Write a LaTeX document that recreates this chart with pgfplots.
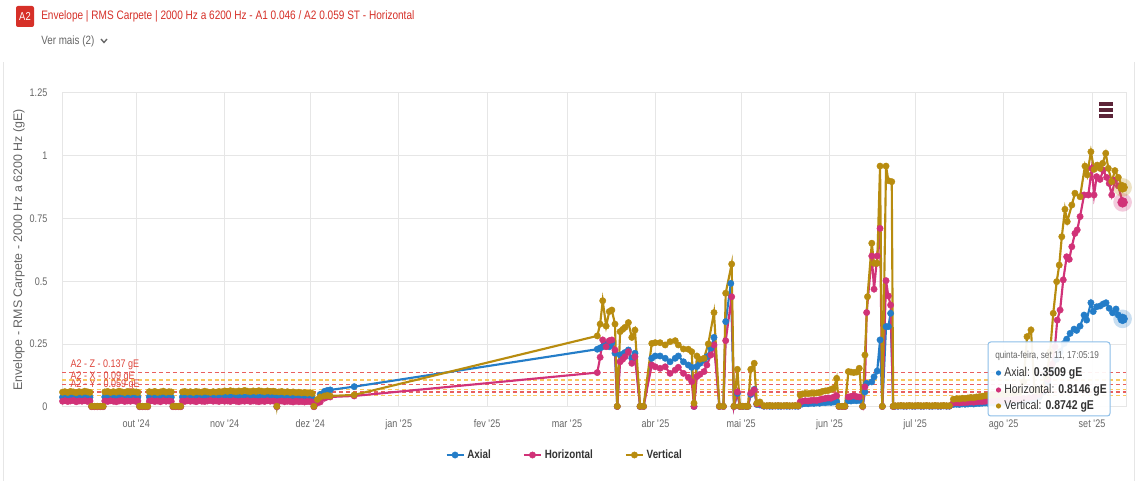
\documentclass[border=0pt]{standalone}
\usepackage{fontspec}
\setmainfont[FakeStretch=0.82]{Liberation Sans}
\newfontfamily\ylabfont{Liberation Sans}
\usepackage{pgfplots}
\pgfplotsset{compat=1.18}

\definecolor{axial}{RGB}{36,125,200}
\definecolor{horiz}{RGB}{209,50,120}
\definecolor{vert}{RGB}{184,140,15}
\definecolor{thrRed}{RGB}{232,95,95}
\definecolor{thrYel}{RGB}{250,200,95}
\definecolor{thrTxt}{RGB}{222,70,60}
\definecolor{gridc}{RGB}{230,230,230}
\definecolor{txtgray}{RGB}{102,102,102}
\definecolor{titlered}{RGB}{214,48,40}
\definecolor{darktxt}{RGB}{51,51,51}
\definecolor{menuc}{RGB}{92,36,56}
\definecolor{tipborder}{RGB}{140,190,232}

\begin{document}
\begin{tikzpicture}[x=0.75pt,y=0.75pt]
\fill[white] (0,0) rectangle (1137,481);
\useasboundingbox (0,0) rectangle (1137,481);
% card sides
\draw[gridc,line width=0.75pt] (3,0) -- (3,419);
\draw[gridc,line width=0.75pt] (1134,0) -- (1134,419);
% header
\fill[titlered,rounded corners=1.5pt] (16,475) rectangle (34,454);
\node[white,inner sep=0,font=\fontsize{8.6pt}{9pt}\selectfont] at (25,464.5) {A2};
\node[anchor=west,inner sep=0,text=titlered,font=\fontsize{9.2pt}{10pt}\selectfont] at (41,464.5)
  {Envelope | RMS Carpete | 2000 Hz a 6200 Hz - A1 0.046 / A2 0.059 ST - Horizontal};
\node[anchor=west,inner sep=0,text=txtgray,font=\fontsize{9pt}{10pt}\selectfont] at (41,440)
  {Ver mais (2)};
\draw[txtgray,line width=1pt] (101,442) -- (104,438.5) -- (107,442);

\begin{axis}[
  at={(46.5pt,55.5pt)}, anchor=south west,
  scale only axis, width=798pt, height=235.5pt,
  xmin=-26, xmax=346.9, ymin=0, ymax=1.25,
  clip=false,
  xtick={0,31,61,92,123,151,182,212,243,273,304,335},
  xticklabels={out \textquotesingle24,nov \textquotesingle24,dez \textquotesingle24,jan \textquotesingle25,fev \textquotesingle25,mar \textquotesingle25,abr \textquotesingle25,mai \textquotesingle25,jun \textquotesingle25,jul \textquotesingle25,ago \textquotesingle25,set \textquotesingle25},
  ytick={0,0.25,0.5,0.75,1,1.25},
  yticklabels={0,0.25,0.5,0.75,1,1.25},
  major tick length=0pt,
  grid=major, grid style={gridc,line width=0.75pt},
  axis line style={gridc,line width=0.75pt},
  tick label style={text=txtgray,font=\fontsize{8.25pt}{9pt}\selectfont},
  yticklabel style={xshift=-7.5pt},
  xticklabel style={yshift=-6pt},
  ylabel={Envelope - RMS Carpete - 2000 Hz a 6200 Hz (gE)},
  every axis y label/.style={at={(axis description cs:-0.0404,0.5)},rotate=90,anchor=center,
     text=txtgray,font=\ylabfont\fontsize{9.3pt}{10pt}\selectfont},
  legend columns=3,
  legend style={at={(0.4727,-0.1529)},anchor=center,draw=none,fill=none,
     font=\bfseries\fontsize{9pt}{10pt}\selectfont,text=darktxt,
     /tikz/every even column/.append style={column sep=22pt}},
  legend image code/.code={\draw[#1,mark repeat=2,mark phase=2] plot coordinates {(0pt,0pt) (6.4pt,0pt) (12.8pt,0pt)};},
]
% thresholds
\addplot[forget plot,thrRed,line width=1.1pt,dash pattern=on 3pt off 2.2pt] coordinates {(-26,0.137) (346.9,0.137)};
\addplot[forget plot,thrYel,line width=1.1pt,dash pattern=on 3pt off 2.2pt] coordinates {(-26,0.107) (346.9,0.107)};
\addplot[forget plot,thrRed,line width=1.1pt,dash pattern=on 3pt off 2.2pt] coordinates {(-26,0.090) (346.9,0.090)};
\addplot[forget plot,thrYel,line width=1.1pt,dash pattern=on 3pt off 2.2pt] coordinates {(-26,0.070) (346.9,0.070)};
\addplot[forget plot,thrRed,line width=1.1pt,dash pattern=on 3pt off 2.2pt] coordinates {(-26,0.059) (346.9,0.059)};
\addplot[forget plot,thrYel,line width=1.1pt,dash pattern=on 3pt off 2.2pt] coordinates {(-26,0.046) (346.9,0.046)};

% Axial
\addplot[axial,line width=1.6pt,mark=*,mark size=2.4pt,mark options={solid,fill=axial,draw=axial,line width=0.3pt}] coordinates {
(-25.8,0.039) (-25,0.041) (-24,0.038) (-23,0.040) (-22,0.042) (-21,0.039) (-20,0.041) (-19,0.038) (-18,0.040) (-17,0.042) (-16.2,0.039)
(-15.6,0.002) (-14.6,0.002) (-13.6,0.002) (-12.6,0.002) (-11.6,0.002)
(-11,0.040) (-10,0.038) (-9,0.041) (-8,0.039) (-7,0.042) (-6,0.040) (-5,0.038) (-4,0.041) (-3,0.039) (-2,0.040) (-1,0.042) (0,0.039) (0.6,0.040)
(1.2,0.002) (2.2,0.002) (3.2,0.002) (4,0.002)
(4.6,0.040) (5.5,0.038) (6.5,0.041) (7.5,0.039) (8.5,0.040) (9.5,0.042) (10.5,0.039) (11.5,0.041) (12.3,0.039)
(12.9,0.002) (13.9,0.002) (14.9,0.002) (15.6,0.002)
(16.2,0.040) (17,0.041) (18,0.039) (19,0.040) (20,0.042) (21,0.039) (22,0.041) (23,0.038) (24,0.040) (25,0.041) (26,0.039) (27,0.042) (28,0.040) (29,0.038) (30,0.041) (31,0.040) (32,0.042) (33,0.039) (34,0.041) (35,0.040) (36,0.038) (37,0.041) (38,0.039) (39,0.040) (40,0.042) (41,0.039) (42,0.040) (43,0.038) (44,0.041) (45,0.039) (46,0.040) (47,0.042) (48,0.039) (48.7,0.040)
(49.3,0.002)
(50,0.039) (51,0.041) (52,0.038) (53,0.040) (54,0.039) (55,0.041) (56,0.037) (57,0.039) (58,0.038) (59,0.040) (60,0.037) (61,0.039) (61.7,0.036)
(62.3,0.002)
(63.5,0.022) (64.5,0.050) (66,0.062) (67,0.066) (68,0.068) (76.4,0.081)
(161.6,0.230) (162.6,0.235) (163.5,0.240) (164.7,0.251) (165.8,0.240) (166.7,0.256) (167.8,0.214) (168.6,0.002) (169.6,0.207) (170.5,0.210) (171.3,0.217) (172.5,0.227) (173.7,0.194) (174.8,0.214) (176.6,0.002) (177.8,0.002) (180.7,0.194) (181.9,0.203) (183.6,0.203) (185.4,0.194) (187.1,0.180) (188.9,0.194) (190.0,0.203) (191.8,0.180) (193.5,0.167) (194.7,0.158) (195.5,0.002) (196.5,0.161) (197.6,0.174) (199.0,0.186) (200.0,0.200) (201.4,0.234) (202.5,0.277) (204.4,0.002) (205.8,0.002) (206.6,0.340) (208.4,0.492) (209.5,0.002)
(210.7,0.054) (211.6,0.002) (212.6,0.002) (213.7,0.002) (214.4,0.002) (215.4,0.050) (216.6,0.070) (217.5,0.010) (218.6,0.008)
(220,0.003) (221,0.004) (222,0.003) (223,0.003) (224,0.004) (225,0.003) (226,0.003) (227,0.004) (228,0.003) (229,0.003) (230,0.004) (231,0.003) (232,0.003)
(232.7,0.010) (233.5,0.012) (234.5,0.014) (235.5,0.013) (236.5,0.015) (237.5,0.014) (238.5,0.016) (239.5,0.015) (240.5,0.018) (241.5,0.017) (242.5,0.019) (243.5,0.018) (244.5,0.020) (245.5,0.021) (246.3,0.002) (247.4,0.002) (248.4,0.002) (249.6,0.025) (250.5,0.024) (251.5,0.026) (252.5,0.025) (253.4,0.027) (254.6,0.002) (255.4,0.060) (256.0,0.094) (257.8,0.100) (258.6,0.120) (259.7,0.143) (260.7,0.267) (261.5,0.002) (262.8,0.320) (263.6,0.320) (264.4,0.373) (265.3,0.002)
(266,0.003) (267,0.003) (268,0.004) (269,0.003) (270,0.003) (271,0.004) (272,0.003) (273,0.003) (274,0.004) (275,0.003) (276,0.003) (277,0.004) (278,0.003) (279,0.003) (280,0.004) (281,0.003) (282,0.003) (283,0.004) (284,0.003) (285,0.003)
(286.4,0.010) (287.5,0.011) (288.5,0.010) (289.5,0.012) (290.5,0.011) (291.5,0.012) (292.5,0.013) (293.5,0.012) (294.5,0.014) (295.5,0.014) (296.5,0.015) (297.5,0.016) (298.5,0.015) (299.5,0.017) (300.5,0.016) (301.5,0.018) (302.5,0.017) (303.5,0.019) (304.5,0.018) (305.5,0.020) (306.5,0.019) (307.5,0.021) (308.5,0.020) (309.5,0.022)
(311,0.024) (313,0.028) (314.8,0.030) (316.5,0.040) (318,0.060) (319.5,0.100) (321,0.150) (322.5,0.190) (323.8,0.220) (325.2,0.253) (326.1,0.270) (327.3,0.293) (328.7,0.310) (329.6,0.305) (330.8,0.322) (332.2,0.366) (333.1,0.346) (334.6,0.415) (335.4,0.380) (336.6,0.399) (337.8,0.402) (338.9,0.410) (339.9,0.415) (341.0,0.393) (342.2,0.375) (343.4,0.390) (344.2,0.366) (345.7,0.3509)
};
\addlegendentry{Axial}

% Horizontal
\addplot[horiz,line width=1.6pt,mark=*,mark size=2.4pt,mark options={solid,fill=horiz,draw=horiz,line width=0.3pt}] coordinates {
(-25.8,0.023) (-25,0.025) (-24,0.022) (-23,0.024) (-22,0.026) (-21,0.021) (-20,0.024) (-19,0.023) (-18,0.025) (-17,0.022) (-16.2,0.024)
(-15.6,0.001) (-14.6,0.001) (-13.6,0.001) (-12.6,0.001) (-11.6,0.001)
(-11,0.024) (-10,0.022) (-9,0.025) (-8,0.023) (-7,0.021) (-6,0.024) (-5,0.026) (-4,0.022) (-3,0.024) (-2,0.023) (-1,0.025) (0,0.022) (0.6,0.024)
(1.2,0.001) (2.2,0.001) (3.2,0.001) (4,0.001)
(4.6,0.023) (5.5,0.025) (6.5,0.022) (7.5,0.024) (8.5,0.021) (9.5,0.025) (10.5,0.023) (11.5,0.024) (12.3,0.022)
(12.9,0.001) (13.9,0.001) (14.9,0.001) (15.6,0.001)
(16.2,0.024) (17,0.022) (18,0.025) (19,0.023) (20,0.024) (21,0.021) (22,0.025) (23,0.023) (24,0.022) (25,0.024) (26,0.026) (27,0.023) (28,0.024) (29,0.022) (30,0.025) (31,0.023) (32,0.024) (33,0.022) (34,0.025) (35,0.023) (36,0.021) (37,0.024) (38,0.023) (39,0.025) (40,0.022) (41,0.024) (42,0.023) (43,0.021) (44,0.024) (45,0.022) (46,0.025) (47,0.023) (48,0.024) (48.7,0.022)
(49.3,0.001)
(50,0.022) (51,0.024) (52,0.021) (53,0.023) (54,0.022) (55,0.020) (56,0.023) (57,0.021) (58,0.022) (59,0.020) (60,0.022) (61,0.021) (61.7,0.020)
(62.3,0.001)
(63.5,0.016) (64.5,0.020) (66,0.035) (67,0.040) (68,0.040) (76.4,0.044)
(161.6,0.137) (162.6,0.198) (163.5,0.267) (164.7,0.240) (165.8,0.264) (166.7,0.267) (167.8,0.227) (168.6,0.002) (169.6,0.180) (170.5,0.190) (171.3,0.200) (172.5,0.220) (173.7,0.174) (174.8,0.200) (176.6,0.002) (177.8,0.002) (180.7,0.167) (181.9,0.160) (183.6,0.154) (185.4,0.160) (187.1,0.134) (188.9,0.147) (190.0,0.158) (191.8,0.134) (193.5,0.118) (194.7,0.101) (195.5,0.002) (196.5,0.121) (197.6,0.130) (199.0,0.141) (200.0,0.167) (201.4,0.207) (202.5,0.247) (204.4,0.002) (205.8,0.002) (206.6,0.264) (208.7,0.439) (209.5,0.002)
(210.7,0.060) (211.6,0.002) (212.6,0.003) (213.7,0.003) (214.4,0.003) (215.4,0.055) (216.6,0.068) (217.5,0.012) (218.6,0.012)
(220,0.004) (221,0.004) (222,0.005) (223,0.004) (224,0.004) (225,0.005) (226,0.004) (227,0.004) (228,0.005) (229,0.004) (230,0.004) (231,0.005) (232,0.004)
(232.7,0.020) (233.5,0.023) (234.5,0.025) (235.5,0.024) (236.5,0.026) (237.5,0.027) (238.5,0.026) (239.5,0.029) (240.5,0.032) (241.5,0.034) (242.5,0.036) (243.5,0.035) (244.5,0.040) (245.5,0.045) (246.3,0.002) (247.4,0.002) (248.4,0.002) (249.6,0.040) (250.5,0.042) (251.5,0.045) (252.5,0.041) (253.4,0.040) (254.6,0.002) (255.4,0.080) (256.0,0.376) (257.8,0.601) (258.6,0.469) (259.7,0.601) (260.7,0.711) (261.5,0.002) (262.8,0.503) (263.6,0.442) (264.4,0.406) (265.3,0.002)
(266,0.004) (267,0.004) (268,0.005) (269,0.004) (270,0.004) (271,0.005) (272,0.004) (273,0.004) (274,0.005) (275,0.004) (276,0.004) (277,0.005) (278,0.004) (279,0.004) (280,0.005) (281,0.004) (282,0.004) (283,0.005) (284,0.004) (285,0.004)
(286.4,0.016) (287.5,0.017) (288.5,0.016) (289.5,0.018) (290.5,0.018) (291.5,0.019) (292.5,0.020) (293.5,0.019) (294.5,0.021) (295.5,0.022) (296.5,0.022) (297.5,0.023) (298.5,0.024) (299.5,0.025) (300.5,0.024) (301.5,0.026) (302.5,0.027) (303.5,0.026) (304.5,0.028) (305.5,0.029) (306.5,0.028) (307.5,0.030) (308.5,0.031) (309.5,0.032)
(311,0.034) (313,0.036) (314.8,0.040) (316.5,0.050) (318,0.070) (319.5,0.110) (321,0.170) (322.0,0.240) (322.8,0.346) (323.8,0.386) (324.9,0.506) (326.1,0.598) (327.0,0.588) (327.9,0.638) (329.0,0.691) (329.8,0.705) (330.8,0.758) (332.2,0.844) (333.7,0.844) (334.9,0.950) (335.7,0.844) (336.6,0.917) (337.8,0.906) (338.9,0.943) (340.1,0.914) (341.0,0.890) (341.9,0.844) (343.0,0.903) (344.2,0.880) (345.7,0.8146)
};
\addlegendentry{Horizontal}

% Vertical
\addplot[vert,line width=1.6pt,mark=*,mark size=2.4pt,mark options={solid,fill=vert,draw=vert,line width=0.3pt}] coordinates {
(-25.8,0.059) (-25,0.061) (-24,0.058) (-23,0.062) (-22,0.060) (-21,0.057) (-20,0.061) (-19,0.059) (-18,0.063) (-17,0.060) (-16.2,0.058)
(-15.6,0.003) (-14.6,0.003) (-13.6,0.003) (-12.6,0.003) (-11.6,0.003)
(-11,0.060) (-10,0.062) (-9,0.058) (-8,0.061) (-7,0.059) (-6,0.063) (-5,0.060) (-4,0.058) (-3,0.062) (-2,0.059) (-1,0.061) (0,0.060) (0.6,0.058)
(1.2,0.003) (2.2,0.003) (3.2,0.003) (4,0.003)
(4.6,0.061) (5.5,0.059) (6.5,0.062) (7.5,0.058) (8.5,0.060) (9.5,0.063) (10.5,0.059) (11.5,0.061) (12.3,0.060)
(12.9,0.003) (13.9,0.003) (14.9,0.003) (15.6,0.003)
(16.2,0.060) (17,0.062) (18,0.059) (19,0.061) (20,0.058) (21,0.062) (22,0.060) (23,0.059) (24,0.063) (25,0.060) (26,0.058) (27,0.061) (28,0.059) (29,0.062) (30,0.060) (31,0.064) (32,0.062) (33,0.065) (34,0.063) (35,0.061) (36,0.064) (37,0.062) (38,0.066) (39,0.063) (40,0.061) (41,0.064) (42,0.062) (43,0.065) (44,0.063) (45,0.061) (46,0.064) (47,0.062) (48,0.063) (48.7,0.061)
(49.3,0.003)
(50,0.060) (51,0.062) (52,0.059) (53,0.061) (54,0.058) (55,0.060) (56,0.057) (57,0.059) (58,0.056) (59,0.058) (60,0.055) (61,0.057) (61.7,0.054)
(62.3,0.003)
(63.5,0.030) (64.5,0.040) (66,0.044) (67,0.046) (68,0.044) (76.4,0.048)
(161.6,0.283) (162.6,0.330) (163.5,0.423) (164.7,0.322) (165.8,0.380) (166.7,0.386) (167.8,0.330) (168.6,0.003) (169.6,0.300) (170.5,0.309) (171.3,0.317) (172.5,0.336) (173.7,0.277) (174.8,0.306) (176.6,0.003) (177.8,0.003) (180.7,0.253) (181.9,0.256) (183.6,0.256) (185.4,0.247) (187.1,0.260) (188.9,0.264) (190.0,0.247) (191.8,0.231) (193.5,0.230) (194.7,0.220) (195.5,0.015) (196.5,0.203) (197.6,0.190) (199.0,0.194) (200.5,0.251) (202.5,0.376) (204.4,0.003) (205.8,0.003) (206.6,0.453) (208.7,0.569) (209.5,0.003)
(210.7,0.150) (211.6,0.003) (212.6,0.003) (213.7,0.003) (214.4,0.003) (215.4,0.150) (216.6,0.174) (217.5,0.015) (218.6,0.020)
(220,0.005) (221,0.005) (222,0.006) (223,0.005) (224,0.005) (225,0.006) (226,0.005) (227,0.005) (228,0.006) (229,0.005) (230,0.005) (231,0.006) (232,0.005)
(232.7,0.048) (233.5,0.052) (234.5,0.054) (235.5,0.053) (236.5,0.055) (237.5,0.054) (238.5,0.056) (239.5,0.058) (240.5,0.062) (241.5,0.064) (242.5,0.066) (243.5,0.070) (244.5,0.075) (245.5,0.114) (246.3,0.003) (247.4,0.003) (248.4,0.003) (249.6,0.141) (250.5,0.139) (251.5,0.137) (252.5,0.139) (253.4,0.154) (254.6,0.003) (255.4,0.207) (256.3,0.439) (257.8,0.652) (258.6,0.572) (259.7,0.572) (260.7,0.959) (261.5,0.003) (262.8,0.959) (263.6,0.901) (264.8,0.897) (265.3,0.003)
(266,0.005) (267,0.005) (268,0.006) (269,0.005) (270,0.005) (271,0.006) (272,0.005) (273,0.005) (274,0.006) (275,0.005) (276,0.005) (277,0.006) (278,0.005) (279,0.005) (280,0.006) (281,0.005) (282,0.005) (283,0.006) (284,0.005) (285,0.005)
(286.4,0.031) (287.5,0.033) (288.5,0.032) (289.5,0.035) (290.5,0.034) (291.5,0.036) (292.5,0.038) (293.5,0.037) (294.5,0.040) (295.5,0.041) (296.5,0.043) (297.5,0.045) (298.5,0.046) (299.5,0.048) (300.5,0.047) (301.5,0.050) (302.5,0.051) (303.5,0.052) (304.5,0.051) (305.5,0.054) (306.5,0.055) (307.5,0.056) (308.5,0.058) (309.5,0.060)
(311,0.100) (312.2,0.280) (313.6,0.307) (314.8,0.070) (316,0.062) (317.5,0.075) (319,0.120) (320.3,0.220) (321.4,0.373) (322.6,0.499) (323.5,0.565) (324.4,0.678) (325.5,0.787) (326.3,0.738) (327.9,0.804) (329.0,0.851) (330.8,0.837) (332.5,0.959) (333.3,0.924) (334.6,1.016) (335.7,0.946) (336.8,0.963) (337.8,0.950) (338.7,0.970) (339.8,1.010) (340.7,0.950) (341.9,0.897) (343.0,0.941) (344.2,0.914) (345.7,0.8742)
};
\addlegendentry{Vertical}

% hovered points (halo and enlarged marker)
\addplot[forget plot,axial,only marks,mark=*,mark size=7pt,mark options={draw opacity=0,fill=axial,fill opacity=0.25}] coordinates {(345.7,0.3509)};
\addplot[forget plot,horiz,only marks,mark=*,mark size=7pt,mark options={draw opacity=0,fill=horiz,fill opacity=0.25}] coordinates {(345.7,0.8146)};
\addplot[forget plot,vert,only marks,mark=*,mark size=7pt,mark options={draw opacity=0,fill=vert,fill opacity=0.25}] coordinates {(345.7,0.8742)};
\addplot[forget plot,axial,only marks,mark=*,mark size=3.7pt,mark options={draw=axial,fill=axial}] coordinates {(345.7,0.3509)};
\addplot[forget plot,horiz,only marks,mark=*,mark size=3.7pt,mark options={draw=horiz,fill=horiz}] coordinates {(345.7,0.8146)};
\addplot[forget plot,vert,only marks,mark=*,mark size=3.7pt,mark options={draw=vert,fill=vert}] coordinates {(345.7,0.8742)};

% threshold labels
\node[anchor=base west,inner sep=0,text=thrTxt,yshift=3.75pt,font=\fontsize{8.25pt}{9pt}\selectfont] at (axis cs:-23.1,0.137) {A2 - Z - 0.137 gE};
\node[anchor=base west,inner sep=0,text=thrTxt,yshift=3.75pt,font=\fontsize{8.25pt}{9pt}\selectfont] at (axis cs:-23.1,0.090) {A2 - X - 0.09 gE};
\node[anchor=base west,inner sep=0,text=thrTxt,yshift=3.75pt,font=\fontsize{8.25pt}{9pt}\selectfont] at (axis cs:-23.1,0.059) {A2 - Y - 0.059 gE};
\end{axis}

% menu icon
\draw[menuc,line width=2.5pt] (1099,377) -- (1113,377);
\draw[menuc,line width=2.5pt] (1099,371) -- (1113,371);
\draw[menuc,line width=2.5pt] (1099,365) -- (1113,365);

% tooltip
\draw[tipborder,fill=white,fill opacity=0.93,rounded corners=2pt,line width=0.75pt] (988,139) rectangle (1110,65);
\node[anchor=west,inner sep=0,text=txtgray,font=\fontsize{7.5pt}{8pt}\selectfont] at (995,125) {quinta-feira, set 11, 17:05:19};
\fill[axial] (998.5,108) circle (2.6);
\fill[horiz] (998.5,91) circle (2.6);
\fill[vert] (998.5,75) circle (2.6);
\node[anchor=west,inner sep=0,text=darktxt,font=\fontsize{9.6pt}{10pt}\selectfont] at (1004,108) {Axial: \textbf{0.3509 gE}};
\node[anchor=west,inner sep=0,text=darktxt,font=\fontsize{9.6pt}{10pt}\selectfont] at (1004,91) {Horizontal: \textbf{0.8146 gE}};
\node[anchor=west,inner sep=0,text=darktxt,font=\fontsize{9.6pt}{10pt}\selectfont] at (1004,75) {Vertical: \textbf{0.8742 gE}};
\end{tikzpicture}
\end{document}
